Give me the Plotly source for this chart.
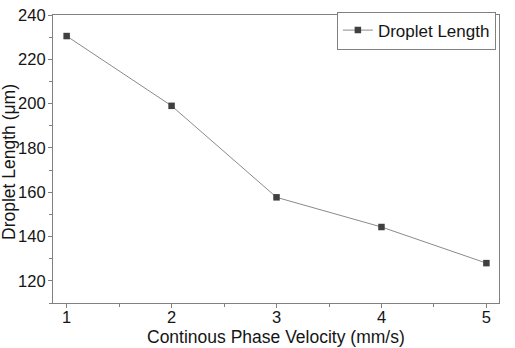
import plotly.graph_objects as go

# Droplet length vs continuous phase velocity
velocity = [1, 2, 3, 4, 5]
droplet_length = [230.5, 199.0, 157.7, 144.3, 128.0]

x_title = "Continous Phase Velocity (mm/s)"
y_title = "Droplet Length (μm)"

axis_color = "#808080"
text_color = "#151515"
font_family = "Liberation Sans, Arial, sans-serif"

fig = go.Figure()
fig.add_trace(go.Scatter(
    x=velocity,
    y=droplet_length,
    mode="lines+markers",
    name="Droplet Length",
    line=dict(color="#8a8a8a", width=1),
    marker=dict(symbol="square", size=6.5, color="#404040"),
))

common_axis = dict(
    showline=True,
    linecolor=axis_color,
    linewidth=1.2,
    mirror=True,
    showgrid=False,
    zeroline=False,
    automargin=False,
    ticks="outside",
    ticklen=4,
    tickwidth=1,
    tickcolor=axis_color,
    tickfont=dict(family=font_family, size=16.5, color=text_color),
)

fig.update_xaxes(
    range=[0.87, 5.12],
    tickvals=velocity,
    ticklabelstandoff=-5,
    minor=dict(dtick=0.5, ticklen=3, tickcolor=axis_color, ticks="outside", showgrid=False),
    **common_axis,
)
fig.update_yaxes(
    range=[110, 240],
    dtick=20,
    ticklabelstandoff=-1,
    minor=dict(dtick=10, ticklen=3, tickcolor=axis_color, ticks="outside", showgrid=False),
    **common_axis,
)

fig.update_layout(
    width=515,
    height=348,
    margin=dict(l=53, r=16, t=15, b=45),
    paper_bgcolor="white",
    plot_bgcolor="white",
    showlegend=True,
    legend=dict(
        x=0.993, y=1.012, xanchor="right", yanchor="top",
        bordercolor=axis_color, borderwidth=1,
        bgcolor="white",
        font=dict(family=font_family, size=17, color=text_color),
        tracegroupgap=0,
    ),
    annotations=[
        dict(text=x_title, xref="paper", yref="paper",
             x=0.5, y=0, yshift=-34, xanchor="center", yanchor="middle",
             showarrow=False,
             font=dict(family=font_family, size=17.5, color=text_color)),
        dict(text=y_title, xref="paper", yref="paper",
             x=0, y=0.5, xshift=-44, yshift=-3, xanchor="center", yanchor="middle",
             textangle=-90, showarrow=False,
             font=dict(family=font_family, size=17.5, color=text_color)),
    ],
)

fig.write_html("out.html")
